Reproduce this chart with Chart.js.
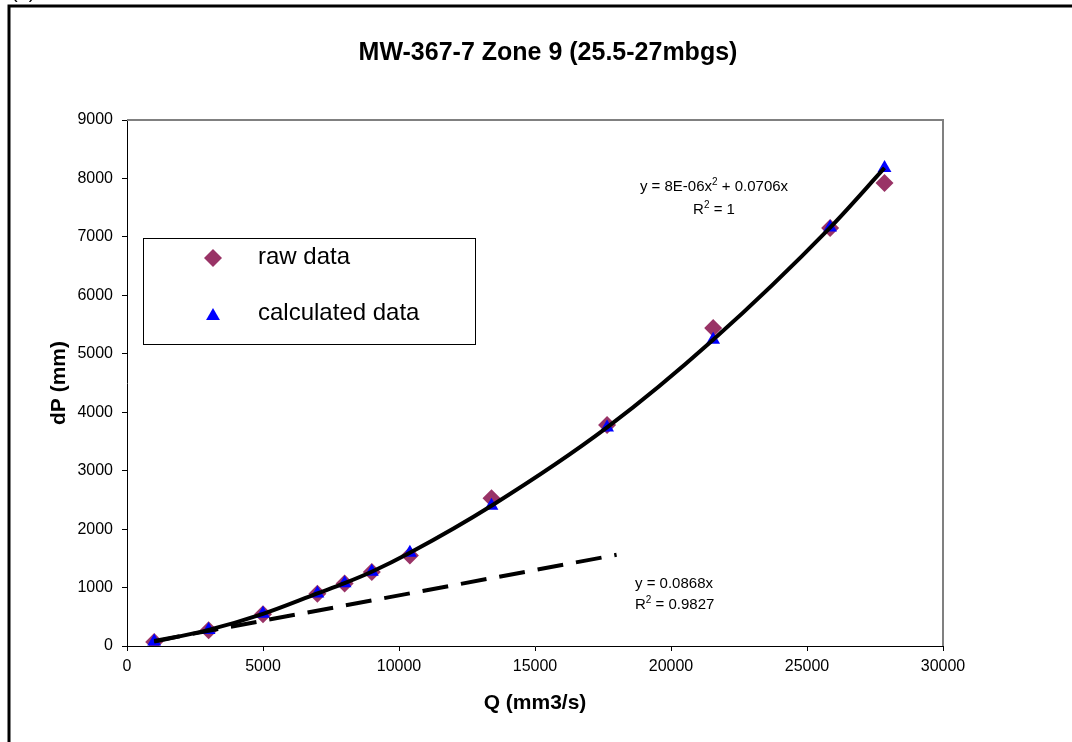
<!DOCTYPE html>
<html>
<head>
<meta charset="utf-8">
<title>MW-367-7 Zone 9</title>
<script src="https://cdn.jsdelivr.net/npm/chart.js@4.4.1/dist/chart.umd.min.js"></script>
<style>
  html, body { margin: 0; padding: 0; background: #fff; }
  #wrap { width: 1072px; height: 742px; }
</style>
</head>
<body>
<div id="wrap"><canvas id="dpChart" width="1072" height="742"></canvas></div>
<script>
// Values
const qValues = [1000, 3000, 5000, 7000, 8000, 9000, 10400, 13400, 17650, 21550, 25850, 27850];
const rawDp = [70, 270, 545, 895, 1070, 1265, 1550, 2530, 3780, 5440, 7150, 7920];
const calcDp = [75, 275, 550, 900, 1075, 1270, 1595, 2400, 3740, 5240, 7160, 8180];
const linearQ = [1000, 18000];
const linearDp = [85, 1560];
const xTicks = [0, 5000, 10000, 15000, 20000, 25000, 30000];
const yTicks = [0, 1000, 2000, 3000, 4000, 5000, 6000, 7000, 8000, 9000];

const FONT = '"Liberation Sans", Arial, sans-serif';
Chart.defaults.font.family = FONT;
Chart.defaults.color = '#000';

const toPoints = (xs, ys) => xs.map((x, i) => ({ x: x, y: ys[i] }));

// draw text with superscripts, parts = [[text, isSup], ...]
const drawParts = (ctx, parts, x, y, size, align) => {
    const supSize = Math.round(size * 0.65);
    let total = 0;
    parts.forEach(p => {
        ctx.font = (p[1] ? supSize : size) + 'px ' + FONT;
        total += ctx.measureText(p[0]).width;
    });
    let cx = align === 'center' ? x - total / 2 : x;
    ctx.textAlign = 'left';
    ctx.textBaseline = 'alphabetic';
    parts.forEach(p => {
        ctx.font = (p[1] ? supSize : size) + 'px ' + FONT;
        ctx.fillText(p[0], cx, p[1] ? y - size * 0.4 : y);
        cx += ctx.measureText(p[0]).width;
    });
};

const overlayPlugin = {
    id: 'overlay',
    afterDraw(chart) {
        const ctx = chart.ctx;
        const area = chart.chartArea;
        ctx.save();

        // grey frame on top and right of plot area
        ctx.strokeStyle = '#808080';
        ctx.lineWidth = 2;
        ctx.beginPath();
        ctx.moveTo(area.left, area.top);
        ctx.lineTo(area.right, area.top);
        ctx.lineTo(area.right, area.bottom);
        ctx.stroke();

        // outer figure border
        ctx.strokeStyle = '#000';
        ctx.lineWidth = 3;
        ctx.beginPath();
        ctx.moveTo(9, 742);
        ctx.lineTo(9, 6);
        ctx.lineTo(1072, 6);
        ctx.stroke();

        // clipped panel label
        ctx.fillStyle = '#000';
        ctx.font = '20px ' + FONT;
        ctx.textAlign = 'left';
        ctx.textBaseline = 'alphabetic';
        ctx.fillText('(b)', 11, -2);

        // title
        ctx.font = 'bold 25px ' + FONT;
        ctx.textAlign = 'center';
        ctx.textBaseline = 'middle';
        ctx.fillText('MW-367-7 Zone 9 (25.5-27mbgs)', 548, 53);

        // legend box
        ctx.strokeStyle = '#000';
        ctx.lineWidth = 1;
        ctx.fillStyle = '#fff';
        ctx.fillRect(143.5, 238.5, 332, 106);
        ctx.strokeRect(143.5, 238.5, 332, 106);
        const items = [
            { text: 'raw data', ds: chart.data.datasets[0], y: 257, my: 258 },
            { text: 'calculated data', ds: chart.data.datasets[1], y: 313, my: 316 }
        ];
        items.forEach(it => {
            ctx.fillStyle = it.ds.backgroundColor;
            Chart.helpers.drawPoint(ctx, {
                pointStyle: it.ds.pointStyle,
                radius: it.ds.pointRadius,
                rotation: 0,
                borderWidth: 0
            }, 213, it.my);
            ctx.fillStyle = '#000';
            ctx.font = '24px ' + FONT;
            ctx.textAlign = 'left';
            ctx.textBaseline = 'middle';
            ctx.fillText(it.text, 258, it.y);
        });

        // trendline equations
        ctx.fillStyle = '#000';
        drawParts(ctx, [['y = 8E-06x', false], ['2', true], [' + 0.0706x', false]], 714, 191, 15, 'center');
        drawParts(ctx, [['R', false], ['2', true], [' = 1', false]], 714, 214, 15, 'center');
        drawParts(ctx, [['y = 0.0868x', false]], 635, 588, 15, 'left');
        drawParts(ctx, [['R', false], ['2', true], [' = 0.9827', false]], 635, 609, 15, 'left');

        ctx.restore();
    }
};

const ctx = document.getElementById('dpChart').getContext('2d');
new Chart(ctx, {
    type: 'scatter',
    data: {
        datasets: [
            {
                label: 'raw data',
                data: toPoints(qValues, rawDp),
                pointStyle: 'rectRot',
                pointRadius: 9,
                backgroundColor: '#993366',
                borderWidth: 0,
                order: 4
            },
            {
                label: 'calculated data',
                data: toPoints(qValues, calcDp),
                pointStyle: 'triangle',
                pointRadius: 8,
                backgroundColor: '#0000FF',
                borderWidth: 0,
                order: 3
            },
            {
                label: 'poly fit',
                data: toPoints(qValues, calcDp),
                showLine: true,
                pointRadius: 0,
                borderColor: '#000',
                borderWidth: 4,
                cubicInterpolationMode: 'monotone',
                order: 1
            },
            {
                label: 'linear fit',
                data: toPoints(linearQ, linearDp),
                showLine: true,
                pointRadius: 0,
                borderColor: '#000',
                borderWidth: 4,
                borderDash: [26, 13],
                order: 2
            }
        ]
    },
    options: {
        responsive: false,
        animation: false,
        devicePixelRatio: 1,
        layout: {
            padding: { top: 120, right: 129, left: 0, bottom: 0 }
        },
        scales: {
            x: {
                type: 'linear',
                min: 0,
                max: 30000,
                afterFit: s => { s.height = 96; },
                afterBuildTicks: s => { s.ticks = xTicks.map(v => ({ value: v })); },
                grid: { drawOnChartArea: false, drawTicks: true, tickLength: 5, color: '#000' },
                border: { display: true, color: '#000', width: 1 },
                ticks: { font: { size: 16 }, padding: 6, maxRotation: 0, callback: v => String(v) },
                title: {
                    display: true,
                    text: 'Q (mm3/s)',
                    font: { size: 21, weight: 'bold' },
                    padding: { top: 0, bottom: 26 }
                }
            },
            y: {
                type: 'linear',
                min: 0,
                max: 9000,
                afterFit: s => { s.width = 127; },
                afterBuildTicks: s => { s.ticks = yTicks.map(v => ({ value: v })); },
                grid: { drawOnChartArea: false, drawTicks: true, tickLength: 5, color: '#000' },
                border: { display: true, color: '#000', width: 1 },
                ticks: { font: { size: 16 }, padding: 9, callback: v => String(v) },
                title: {
                    display: true,
                    text: 'dP (mm)',
                    font: { size: 21, weight: 'bold' },
                    padding: { top: 47, bottom: 0 }
                }
            }
        },
        plugins: {
            legend: { display: false },
            title: { display: false },
            tooltip: { enabled: false }
        }
    },
    plugins: [overlayPlugin]
});
</script>
</body>
</html>
